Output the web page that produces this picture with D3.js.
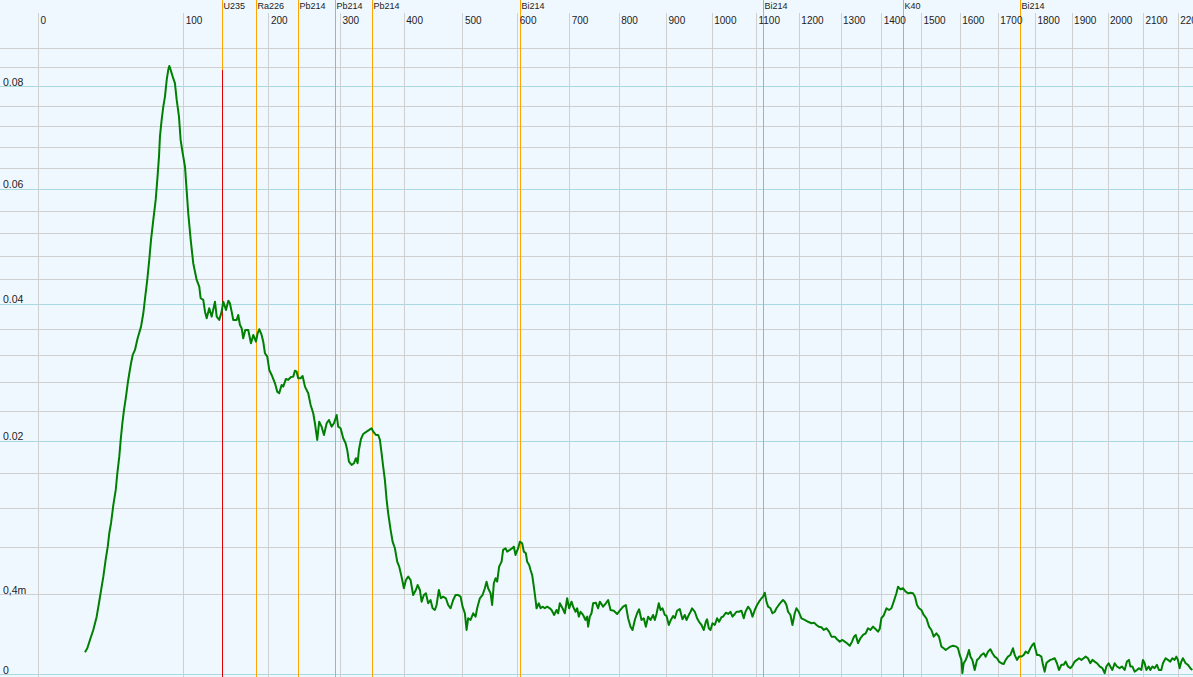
<!DOCTYPE html>
<html>
<head>
<meta charset="utf-8">
<script src="https://cdn.jsdelivr.net/npm/d3@7"></script>
<style>
  html, body { margin: 0; padding: 0; background: #f0f8ff; }
  svg { display: block; }
  text { font-family: "Liberation Sans", Arial, sans-serif; fill: #222; }
</style>
</head>
<body>
<div id="chart"></div>
<script>
// ---- data (energy in keV, count rate) ----
const energyKeV = [
18.4,19.8,21.4,23.5,25.7,27.2,28.6,30.2,31.8,33.3,34.4,35.7,37.4,39.2,40.4,41.9,43.0,44.3,45.6,47.2,
48.6,49.9,51.3,52.7,54.6,56.7,59.8,61.8,63.5,65.3,67.1,68.7,70.8,73.0,74.5,76.1,77.0,78.6,80.2,81.8,
83.5,85.0,86.0,87.4,89.4,91.6,93.4,95.7,97.4,99.5,101.9,103.6,105.3,107.9,110.6,114.3,117.1,118.6,121.5,123.4,
125.3,128.1,130.9,134.6,136.6,139.5,142.3,144.2,147.4,150.1,152.0,154.1,156.0,160.1,162.0,164.1,166.2,168.1,170.6,174.3,
177.7,180.6,184.0,186.1,188.2,191.2,193.3,195.5,198.5,201.1,204.2,208.6,211.6,214.2,217.4,219.6,223.2,226.3,229.6,233.2,
235.5,237.8,240.0,243.3,246.1,249.4,254.0,257.4,261.1,263.5,266.8,269.6,273.1,276.5,280.4,283.7,287.7,291.1,295.1,297.4,
301.0,304.9,308.5,310.9,313.5,317.5,321.1,324.1,326.7,328.7,331.8,335.3,340.6,344.6,348.4,350.9,355.2,358.8,361.5,364.2,
366.7,369.4,372.2,374.7,378.6,381.8,385.5,389.3,392.5,396.4,400.2,403.5,407.3,411.2,415.5,420.0,422.9,426.7,429.6,433.4,
436.8,440.7,444.7,448.2,452.1,455.0,458.9,462.4,466.3,471.0,475.0,479.2,483.7,487.9,492.5,496.7,500.2,504.3,507.3,510.1,
514.4,519.1,523.4,526.2,531.1,536.0,540.1,543.2,546.1,550.5,553.4,556.5,559.6,562.6,566.2,570.7,573.6,578.1,581.0,586.0,
590.4,593.5,596.7,601.6,604.8,609.1,612.3,616.1,618.6,622.4,625.0,628.1,631.3,634.6,636.5,640.9,644.1,648.0,652.4,656.9,
662.1,665.4,670.5,675.2,678.3,681.6,686.9,691.4,696.0,699.9,704.6,707.8,712.6,715.8,719.1,722.5,727.7,732.5,735.8,737.8,
741.2,744.6,747.9,753.3,758.0,761.4,768.2,773.7,778.4,783.3,790.1,796.9,802.4,809.3,814.9,819.7,824.7,828.9,833.7,838.5,
842.7,847.7,852.6,856.9,861.7,866.8,872.3,875.9,879.5,884.4,888.1,892.4,897.3,901.0,905.9,910.3,915.2,918.9,923.8,929.6,
935.5,940.6,944.3,949.3,953.1,956.6,962.5,967.5,971.9,977.2,982.3,986.8,989.6,993.4,997.2,1001.6,1006.8,1011.9,1016.3,1021.7,
1025.3,1031.4,1036.6,1042.0,1046.5,1051.7,1055.5,1060.7,1066.8,1072.1,1076.0,1081.9,1087.4,1092.0,1097.3,1102.5,1107.1,1112.7,1116.4,1120.3,
1124.2,1128.0,1133.5,1138.2,1143.5,1147.4,1152.8,1159.1,1162.8,1166.8,1170.8,1174.6,1180.2,1184.9,1190.4,1194.3,1199.8,1206.2,1214.0,1221.9,
1230.0,1236.2,1241.9,1247.4,1253.8,1259.4,1265.9,1272.2,1278.0,1285.9,1291.5,1298.0,1304.6,1310.2,1315.8,1322.4,1328.0,1332.9,1337.1,1342.7,
1348.6,1355.0,1361.7,1367.4,1373.3,1379.7,1386.4,1392.1,1396.3,1400.6,1406.3,1413.1,1419.6,1425.6,1431.3,1438.1,1442.1,1448.1,1454.7,1461.5,
1467.4,1473.4,1480.0,1485.1,1490.1,1495.2,1501.3,1507.2,1514.1,1520.8,1526.9,1532.8,1539.7,1546.4,1552.6,1558.5,1563.7,1569.7,1575.9,1582.6,
1591.4,1595.6,1600.0,1604.4,1607.0,1610.4,1615.7,1619.1,1624.3,1628.0,1633.2,1639.2,1645.2,1650.5,1656.8,1662.9,1668.2,1674.3,1680.6,1685.9,
1692.0,1698.1,1703.3,1709.7,1715.9,1721.2,1727.4,1733.8,1740.7,1745.3,1751.4,1756.8,1763.2,1769.5,1774.9,1781.1,1787.5,1792.9,1797.3,1801.9,
1805.4,1810.8,1817.3,1821.7,1826.3,1830.9,1835.3,1841.8,1847.3,1853.6,1859.8,1865.3,1871.9,1878.2,1883.7,1890.0,1896.6,1902.2,1908.5,1914.8,
1920.3,1927.0,1933.4,1938.9,1945.3,1952.0,1957.6,1964.0,1970.4,1977.9,1985.5,1991.9,1996.7,2003.1,2007.9,2013.5,2020.0,2026.4,2034.0,2040.5,
2048.2,2054.7,2060.4,2064.3,2070.0,2076.5,2083.0,2088.7,2095.5,2100.1,2105.0,2109.8,2116.4,2121.3,2127.0,2133.5,2140.1,2145.8,2152.7,2157.4,
2165.1,2171.8,2178.7,2184.5,2191.1,2196.0,2200.6,2205.5,2210.5,2215.1,2223.0,2229.7,2236.7,2242.5
];
const countRate = [
0.000570,0.000733,0.001115,0.001640,0.002438,0.003339,0.004271,0.005391,0.006841,0.008071,0.009374,0.010422,0.012340,0.014021,0.015969,0.017993,0.020106,0.022294,0.024094,0.025937,
0.027837,0.029285,0.030758,0.032000,0.032757,0.034438,0.036350,0.038473,0.041160,0.043924,0.047316,0.050786,0.054337,0.057966,0.061673,0.066084,0.069953,0.073242,0.075895,0.077904,
0.081312,0.083368,0.084197,0.083368,0.081987,0.080636,0.077241,0.073894,0.069313,0.066733,0.064181,0.059808,0.055537,0.050786,0.046753,0.043924,0.042808,0.040899,0.040622,0.038730,
0.037677,0.039277,0.037931,0.040344,0.037931,0.037407,0.038730,0.040344,0.039004,0.040508,0.040083,0.038730,0.037407,0.037407,0.038201,0.036616,0.036099,0.034546,0.035834,0.035834,
0.033776,0.035054,0.034022,0.035318,0.035943,0.035054,0.034022,0.032255,0.031745,0.029770,0.029037,0.027837,0.026641,0.026414,0.027594,0.027352,0.028459,0.028314,0.028705,0.028792,
0.029667,0.029520,0.028560,0.028560,0.028893,0.027352,0.026414,0.024780,0.023641,0.022294,0.020106,0.022509,0.021844,0.020752,0.022294,0.022738,0.021844,0.022294,0.023410,0.021844,
0.021633,0.020326,0.019680,0.018832,0.017375,0.016970,0.017178,0.017796,0.017178,0.018832,0.020196,0.020881,0.021184,0.021409,0.021633,0.021184,0.020752,0.020752,0.020106,0.018416,
0.016765,0.015179,0.012894,0.011442,0.009709,0.008550,0.007920,0.006687,0.006246,0.005391,0.004456,0.005119,0.005391,0.005119,0.003945,0.004325,0.004716,0.004325,0.003454,0.003945,
0.004073,0.003339,0.003576,0.002991,0.002876,0.003220,0.004325,0.003700,0.003819,0.003700,0.003220,0.002991,0.003576,0.003945,0.003945,0.003819,0.003102,0.002657,0.001641,0.002336,
0.002230,0.002657,0.002438,0.002991,0.003700,0.003945,0.004456,0.004981,0.004456,0.004073,0.003220,0.004852,0.005259,0.004981,0.006246,0.006687,0.007760,0.007920,0.007600,0.007760,
0.007920,0.008071,0.007293,0.007920,0.008550,0.008394,0.007600,0.007449,0.006687,0.006393,0.005961,0.005533,0.004583,0.003576,0.002991,0.003339,0.002991,0.003102,0.002991,0.003102,
0.002991,0.002876,0.002546,0.002876,0.002657,0.003339,0.002991,0.002657,0.003700,0.002991,0.003454,0.003102,0.002757,0.002991,0.002438,0.002757,0.002546,0.002230,0.002438,0.001829,
0.002438,0.002657,0.003339,0.003382,0.002991,0.003454,0.003102,0.003339,0.003576,0.002876,0.002826,0.002610,0.002826,0.003102,0.003220,0.002336,0.001829,0.001641,0.002230,0.002657,
0.002922,0.002230,0.002336,0.001829,0.002438,0.002230,0.002546,0.002230,0.002610,0.003339,0.002876,0.002991,0.002546,0.002482,0.001928,0.002230,0.002482,0.002336,0.002826,0.002943,
0.002273,0.002546,0.002230,0.002546,0.002757,0.002991,0.002757,0.002336,0.002119,0.001928,0.001641,0.002119,0.002273,0.001735,0.001641,0.002029,0.001928,0.002336,0.002119,0.002399,
0.002438,0.002693,0.002610,0.002757,0.002438,0.002610,0.002757,0.002757,0.002826,0.002336,0.002757,0.003102,0.002876,0.002438,0.002876,0.003220,0.003454,0.003700,0.003819,0.004117,
0.003454,0.003102,0.002991,0.002657,0.002757,0.002991,0.003220,0.003454,0.003576,0.003454,0.003220,0.002757,0.002546,0.001928,0.002657,0.002991,0.002757,0.002336,0.002230,0.002119,
0.002029,0.002066,0.001928,0.001829,0.001794,0.001641,0.001735,0.001547,0.001282,0.001282,0.001149,0.001033,0.001115,0.001033,0.000956,0.000842,0.001033,0.001282,0.001369,0.000956,
0.001199,0.001369,0.001459,0.001735,0.001641,0.001829,0.001678,0.001547,0.001695,0.002355,0.002514,0.002991,0.002876,0.002991,0.003454,0.004073,0.004583,0.004378,0.004456,0.004194,
0.004073,0.004117,0.004073,0.003819,0.003220,0.002991,0.002876,0.002546,0.002336,0.001829,0.001641,0.001282,0.001459,0.001282,0.000804,0.000733,0.000662,0.000733,0.000804,0.000842,
0.000804,0.000733,0.000467,0.000297,0.000004,0.000199,0.000297,0.000407,0.000662,0.000407,0.000297,0.000045,0.000297,0.000351,0.000467,0.000530,0.000407,0.000594,0.000690,0.000530,
0.000407,0.000351,0.000246,0.000199,0.000178,0.000297,0.000407,0.000467,0.000733,0.000467,0.000297,0.000407,0.000407,0.000467,0.000594,0.000530,0.000733,0.000879,0.000956,0.000662,
0.000467,0.000467,0.000407,0.000155,0.000020,0.000199,0.000246,0.000297,0.000318,0.000351,0.000199,0.000045,0.000155,0.000155,0.000246,0.000116,0.000079,0.000132,0.000246,0.000297,
0.000351,0.000297,0.000351,0.000407,0.000351,0.000199,0.000297,0.000246,0.000199,0.000116,0.000079,0.000004,0.000116,0.000199,0.000116,0.000045,0.000199,0.000116,0.000079,0.000116,
0.000045,0.000246,0.000297,0.000116,0.000116,0.000020,0.000045,0.000079,0.000045,0.000297,0.000199,0.000045,0.000116,0.000045,0.000116,0.000079,0.000155,0.000045,0.000045,0.000199,
0.000351,0.000297,0.000246,0.000351,0.000297,0.000407,0.000297,0.000079,0.000246,0.000351,0.000199,0.000155,0.000079,0.000045
];

// x axis ticks (keV) and y axis labelled values
const xTicks = [0,100,200,300,400,500,600,700,800,900,1000,1100,1200,1300,1400,1500,1600,1700,1800,1900,2000,2100,2200];
const yTickValues = [0, 0.004, 0.02, 0.04, 0.06, 0.08];
const yTickLabels = ["0", "0,4m", "0.02", "0.04", "0.06", "0.08"];
const yBlueLines = [0, 0.02, 0.04, 0.06, 0.08];

// isotope marker lines
const markerNames = ["U235", "Ra226", "Pb214", "Pb214", "Pb214", "Bi214", "Bi214", "K40", "Bi214"];
const markerEnergies = [142.5, 184.5, 240.0, 292.5, 349.5, 606.0, 1116.5, 1455.0, 1759.0];

// ---- drawing ----
const W = 1193, H = 677;
const svg = d3.select("#chart").append("svg").attr("width", W).attr("height", H);
svg.append("rect").attr("width", W).attr("height", H).attr("fill", "#f0f8ff");

const x = d3.scalePow().exponent(2/3).domain([0, 2200]).range([38, 1177.7]);
const y = d3.scalePow().exponent(2/3).domain([0, 0.08]).range([674, 86.3]);

const yGrid = d3.range(0, 0.0881, 0.004);
const crisp = v => Math.round(v) + 0.5;

// horizontal gridlines
svg.append("g").selectAll("line").data(yGrid).join("line")
  .attr("x1", 0).attr("x2", W)
  .attr("y1", d => crisp(y(d))).attr("y2", d => crisp(y(d)))
  .attr("stroke", d => yBlueLines.some(b => Math.abs(b - d) < 1e-6) ? "#a8d8e2" : "#cfcfcf")
  .attr("stroke-width", 1);

// vertical gridlines
svg.append("g").selectAll("line").data(xTicks).join("line")
  .attr("x1", d => crisp(x(d))).attr("x2", d => crisp(x(d)))
  .attr("y1", 13).attr("y2", H)
  .attr("stroke", "#cfcfcf").attr("stroke-width", 1);

// marker lines
const mk = svg.append("g");
mk.selectAll("line").data(markerEnergies).join("line")
  .attr("x1", d => crisp(x(d))).attr("x2", d => crisp(x(d)))
  .attr("y1", 0).attr("y2", H)
  .attr("stroke", "#ffa500").attr("stroke-width", 1);
// highlighted U235 marker (red below the top band)
mk.append("line")
  .attr("x1", crisp(x(markerEnergies[0]))).attr("x2", crisp(x(markerEnergies[0])))
  .attr("y1", 70).attr("y2", H)
  .attr("stroke", "#e00000").attr("stroke-width", 1);

// spectrum line
const pts = energyKeV.map((e, i) => [e, countRate[i]]);
svg.append("path").datum(pts)
  .attr("fill", "none").attr("stroke", "#008000").attr("stroke-width", 2)
  .attr("stroke-linejoin", "round")
  .attr("d", d3.line().x(d => x(d[0])).y(d => y(d[1])));

// x tick labels
svg.append("g").selectAll("text").data(xTicks).join("text")
  .attr("x", d => x(d) + 2.5).attr("y", 24)
  .attr("font-size", 10).text(d => d);

// y labels
svg.append("g").selectAll("text").data(yTickValues).join("text")
  .attr("x", 3).attr("y", d => y(d) - 0.5)
  .attr("font-size", 10.5).text((d, i) => yTickLabels[i]);

// marker labels
svg.append("g").selectAll("text").data(markerEnergies).join("text")
  .attr("x", d => crisp(x(d)) + 1).attr("y", 9)
  .attr("font-size", 9).text((d, i) => markerNames[i]);
</script>
</body>
</html>
